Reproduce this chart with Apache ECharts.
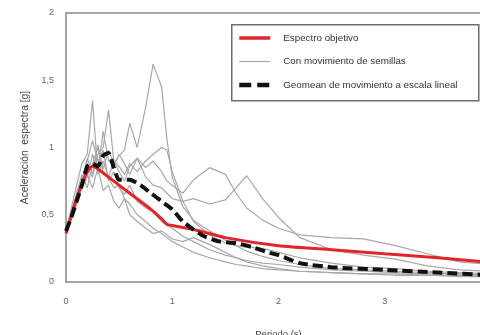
<!DOCTYPE html>
<html>
<head>
<meta charset="utf-8">
<script src="https://cdn.jsdelivr.net/npm/echarts@6/dist/echarts.min.js"></script>
<style>
  html, body { margin: 0; padding: 0; background: #fff; }
  #chart { width: 480px; height: 335px; }
</style>
</head>
<body>
<div id="chart"></div>
<script>
// Periodo (s) y aceleración espectral (g)
const targetPeriods = [0, 0.1, 0.2, 0.25, 0.3, 0.4, 0.5, 0.6, 0.7, 0.8, 0.9, 0.95, 1.0, 1.2, 1.5, 2.0, 2.5, 3.0, 3.5, 4.0];
const targetSpectrum = [0.36, 0.62, 0.82, 0.86, 0.84, 0.78, 0.72, 0.66, 0.6, 0.54, 0.47, 0.43, 0.42, 0.39, 0.33, 0.27, 0.24, 0.21, 0.18, 0.145];

const geomeanPeriods = [0, 0.05, 0.1, 0.15, 0.2, 0.25, 0.3, 0.35, 0.4, 0.45, 0.5, 0.6, 0.7, 0.8, 0.9, 1.0, 1.1, 1.2, 1.3, 1.45, 1.6, 1.75, 1.9, 2.0, 2.2, 2.5, 3.0, 3.5, 4.0];
const geomeanSpectrum = [0.38, 0.48, 0.6, 0.72, 0.86, 0.88, 0.86, 0.94, 0.96, 0.85, 0.76, 0.76, 0.72, 0.66, 0.6, 0.54, 0.45, 0.39, 0.34, 0.3, 0.29, 0.26, 0.22, 0.2, 0.14, 0.11, 0.09, 0.07, 0.05];

const seedPeriods = [0, 0.05, 0.1, 0.15, 0.2, 0.25, 0.3, 0.35, 0.4, 0.45, 0.5, 0.55, 0.6, 0.67, 0.75, 0.82, 0.9, 0.95, 1.0, 1.1, 1.2, 1.35, 1.5, 1.6, 1.7, 1.85, 2.0, 2.2, 2.5, 2.8, 3.1, 3.4, 3.7, 4.0];
const seedA = [0.38, 0.5, 0.64, 0.75, 0.92, 0.8, 1.02, 0.84, 0.98, 0.88, 0.94, 0.98, 1.18, 1.0, 1.3, 1.62, 1.45, 1.06, 0.78, 0.56, 0.46, 0.38, 0.31, 0.27, 0.23, 0.19, 0.16, 0.13, 0.1, 0.09, 0.08, 0.07, 0.06, 0.05];
const seedB = [0.38, 0.46, 0.58, 0.7, 0.78, 0.95, 0.82, 1.12, 0.9, 0.86, 0.95, 0.88, 0.8, 0.92, 0.85, 0.9, 0.82, 0.75, 0.72, 0.66, 0.76, 0.85, 0.8, 0.66, 0.55, 0.46, 0.4, 0.35, 0.33, 0.32, 0.27, 0.21, 0.15, 0.13];
const seedC = [0.38, 0.52, 0.66, 0.8, 0.7, 0.88, 1.0, 0.8, 0.78, 0.9, 0.82, 0.75, 0.86, 0.92, 0.78, 0.72, 0.7, 0.66, 0.62, 0.6, 0.62, 0.58, 0.61, 0.7, 0.79, 0.62, 0.48, 0.33, 0.24, 0.2, 0.17, 0.12, 0.09, 0.08];
const seedD = [0.38, 0.55, 0.72, 0.88, 0.95, 1.35, 0.8, 0.9, 0.78, 0.7, 0.72, 0.62, 0.58, 0.5, 0.45, 0.4, 0.36, 0.33, 0.3, 0.26, 0.22, 0.18, 0.15, 0.13, 0.12, 0.1, 0.09, 0.08, 0.07, 0.06, 0.06, 0.05, 0.05, 0.04];
const seedE = [0.38, 0.5, 0.62, 0.75, 0.85, 0.78, 0.95, 1.0, 1.28, 0.9, 0.86, 0.8, 0.88, 0.82, 0.9, 0.95, 1.0, 0.98, 0.82, 0.6, 0.45, 0.35, 0.29, 0.27, 0.26, 0.25, 0.22, 0.18, 0.14, 0.11, 0.1, 0.08, 0.07, 0.06];
const seedF = [0.38, 0.5, 0.64, 0.78, 0.8, 0.7, 0.85, 0.68, 0.72, 0.6, 0.55, 0.62, 0.5, 0.45, 0.4, 0.36, 0.38, 0.35, 0.32, 0.3, 0.33, 0.28, 0.22, 0.18, 0.15, 0.12, 0.1, 0.08, 0.07, 0.06, 0.05, 0.05, 0.04, 0.04];
const seedG = [0.38, 0.48, 0.6, 0.72, 0.9, 1.05, 0.9, 0.98, 0.75, 0.82, 0.7, 0.65, 0.72, 0.6, 0.55, 0.52, 0.45, 0.42, 0.4, 0.34, 0.3, 0.24, 0.2, 0.18, 0.16, 0.14, 0.13, 0.11, 0.09, 0.08, 0.07, 0.06, 0.06, 0.05];
const seedRecords = [seedA, seedB, seedC, seedD, seedE, seedF, seedG];

const xTicks = [0, 1, 2, 3, 4];
const yTicks = [0, 0.5, 1, 1.5, 2];

const NAME_TARGET = 'Espectro objetivo';
const NAME_SEEDS = 'Con movimiento de semillas';
const NAME_GEOMEAN = 'Geomean de movimiento a escala lineal';

const pairs = (xs, ys) => xs.map((x, i) => [x, ys[i]]);
const decimal = v => String(v).replace('.', ',');
const FONT = 'Liberation Sans';
const AXIS_GREY = '#8a8a8a';

const SEED_STYLE = { color: '#a8a8a8', width: 1.2 };
const TARGET_STYLE = { color: '#e0262a', width: 3 };
const GEOMEAN_STYLE = { color: '#111', width: 4, type: [10, 5] };

// The legend draws a marker on each line icon; keep it invisible so only the stroke shows.
const hiddenMarker = { opacity: 0 };

const seedSeries = seedRecords.map(rec => ({
  name: NAME_SEEDS,
  type: 'line',
  data: pairs(seedPeriods, rec),
  symbol: 'none',
  lineStyle: SEED_STYLE,
  itemStyle: Object.assign({ color: SEED_STYLE.color }, hiddenMarker),
  z: 2
}));

const chart = echarts.init(document.getElementById('chart'), null, { renderer: 'canvas' });
chart.setOption({
  animation: false,
  backgroundColor: '#ffffff',
  grid: {
    left: 66, right: -11, top: 13, bottom: 53,
    outerBoundsMode: 'none',
    containLabel: false,
    show: false
  },
  xAxis: [{
    type: 'value',
    min: xTicks[0], max: xTicks[xTicks.length - 1], interval: 1,
    name: 'Periodo (s)',
    nameLocation: 'middle', nameGap: 47,
    nameTextStyle: { fontFamily: FONT, fontSize: 9.5, color: '#444' },
    axisLine: { show: true, lineStyle: { color: AXIS_GREY, width: 1.5 } },
    axisTick: { show: false },
    splitLine: { show: false },
    axisLabel: { fontFamily: FONT, fontSize: 9, color: '#666', margin: 15, formatter: decimal }
  }, {
    // frame line along the top of the plot
    type: 'value', position: 'top',
    min: xTicks[0], max: xTicks[xTicks.length - 1], interval: 1,
    axisLine: { show: true, onZero: false, lineStyle: { color: AXIS_GREY, width: 1.5 } },
    axisTick: { show: false }, axisLabel: { show: false }, splitLine: { show: false }
  }],
  yAxis: {
    type: 'value',
    min: yTicks[0], max: yTicks[yTicks.length - 1], interval: 0.5,
    name: 'Aceleración  espectra [g]',
    nameLocation: 'middle', nameGap: 31, nameRotate: 90,
    nameTextStyle: { fontFamily: FONT, fontSize: 10.3, color: '#444' },
    axisLine: { show: true, lineStyle: { color: AXIS_GREY, width: 1.5 } },
    axisTick: { show: false },
    splitLine: { show: false },
    axisLabel: { fontFamily: FONT, fontSize: 9, color: '#666', margin: 12, formatter: decimal }
  },
  graphic: [{
    type: 'rect',
    left: 231, top: 24,
    shape: { width: 247, height: 76 },
    style: { fill: '#fff', stroke: '#6e6e6e', lineWidth: 1.5 },
    z: 50
  }],
  legend: {
    data: [
      { name: NAME_TARGET, lineStyle: { width: 3.5 } },
      { name: NAME_SEEDS, lineStyle: { width: 1.2 } },
      { name: NAME_GEOMEAN, lineStyle: { width: 4.5, type: [12, 6] } }
    ],
    orient: 'vertical',
    left: 237, top: 32,
    itemWidth: 31, itemHeight: 12, itemGap: 11.5,
    padding: 0,
    z: 60,
    itemStyle: hiddenMarker,
    textStyle: { fontFamily: FONT, fontSize: 9.8, color: '#333', lineHeight: 12, padding: [0, 0, 0, 8] }
  },
  series: [
    ...seedSeries,
    {
      name: NAME_TARGET,
      type: 'line',
      data: pairs(targetPeriods, targetSpectrum),
      symbol: 'none',
      smooth: 0.2,
      lineStyle: TARGET_STYLE,
      itemStyle: Object.assign({ color: TARGET_STYLE.color }, hiddenMarker),
      z: 3
    },
    {
      name: NAME_GEOMEAN,
      type: 'line',
      data: pairs(geomeanPeriods, geomeanSpectrum),
      symbol: 'none',
      smooth: 0.2,
      lineStyle: GEOMEAN_STYLE,
      itemStyle: Object.assign({ color: GEOMEAN_STYLE.color }, hiddenMarker),
      z: 4
    }
  ]
});
</script>
</body>
</html>
